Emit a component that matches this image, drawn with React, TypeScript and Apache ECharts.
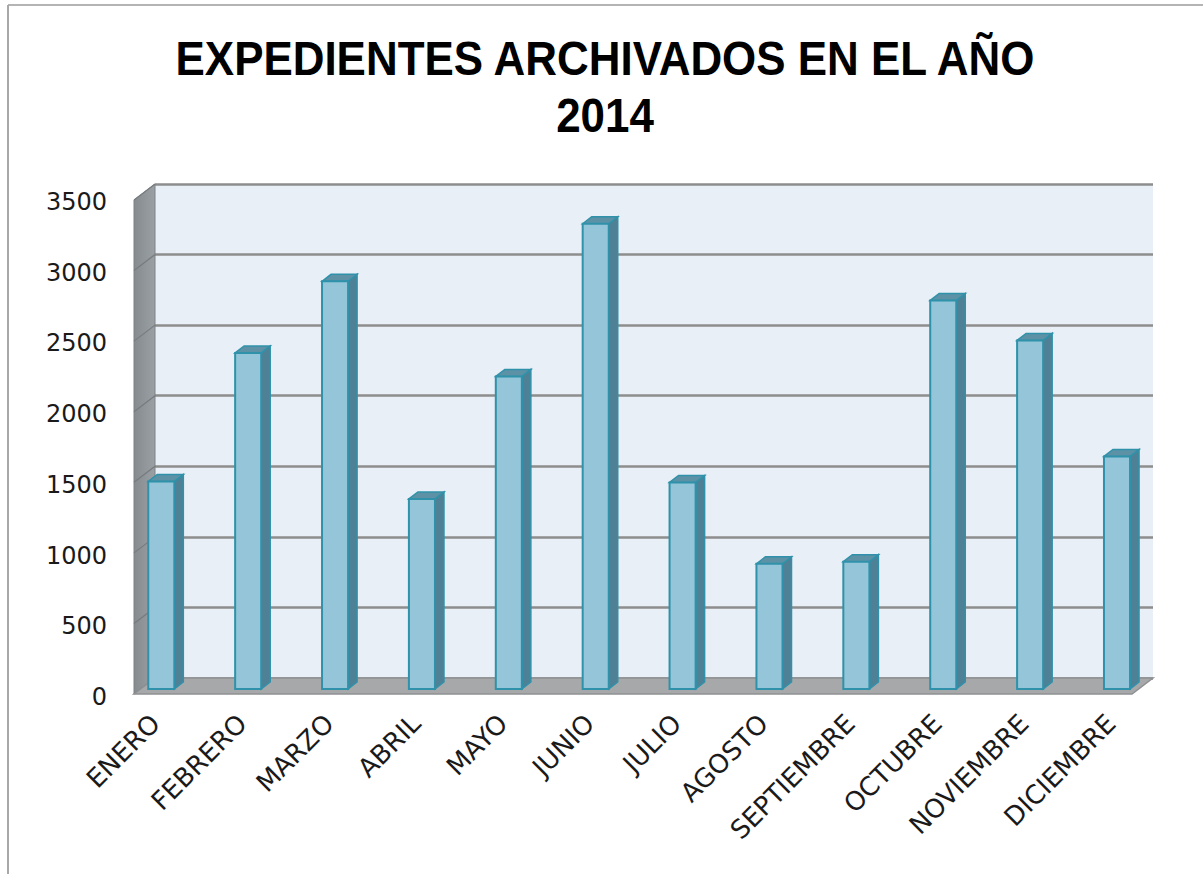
import React, { useEffect, useRef } from "react";
import * as echarts from "echarts";

const months = [
  "ENERO", "FEBRERO", "MARZO", "ABRIL", "MAYO", "JUNIO",
  "JULIO", "AGOSTO", "SEPTIEMBRE", "OCTUBRE", "NOVIEMBRE", "DICIEMBRE",
];
const expedientes = [1470, 2380, 2887, 1346, 2214, 3295, 1463, 887, 902, 2752, 2469, 1647];
const yTicks = [0, 500, 1000, 1500, 2000, 2500, 3000, 3500];
const titleLine1 = "EXPEDIENTES ARCHIVADOS EN EL AÑO";
const titleLine2 = "2014";

export default function App() {
  const ref = useRef<HTMLDivElement>(null);

  useEffect(() => {
    if (!ref.current) return;
    const chart = echarts.init(ref.current, null, { renderer: "svg" });
    const yMin = yTicks[0];
    const yMax = yTicks[yTicks.length - 1];
    const yStep = yTicks[1] - yTicks[0];
    const DX = -21;
    const DY = 16;
    const labelFont = "'DejaVu Sans', Verdana, sans-serif";
    const titleFont = "'Liberation Sans', Arial, sans-serif";

    const wallsRender = (params: any, api: any) => {
      const b0 = api.coord([0, yMin]);
      const bT = api.coord([0, yMax]);
      const b1 = api.coord([1, yMin]);
      const f = (p: number[]) => [p[0] + DX, p[1] + DY];
      const children: any[] = [];
      children.push({
        type: "polygon",
        shape: { points: [bT, b0, f(b0), f(bT)] },
        style: {
          fill: new echarts.graphic.LinearGradient(0, 0, 1, 0, [
            { offset: 0, color: "#868b90" },
            { offset: 1, color: "#9ba0a4" },
          ]),
          stroke: "#7d8185",
          lineWidth: 1,
        },
      });
      yTicks.forEach((v) => {
        const p = api.coord([0, v]);
        children.push({
          type: "line",
          shape: { x1: p[0], y1: p[1], x2: p[0] + DX, y2: p[1] + DY },
          style: { stroke: "#767b80", lineWidth: 1.2 },
        });
      });
      children.push({
        type: "polygon",
        shape: { points: [b0, b1, f(b1), f(b0)] },
        style: { fill: "#a6a8aa", stroke: "#8e9092", lineWidth: 1.5 },
      });
      return { type: "group", children };
    };

    const barRender = (params: any, api: any) => {
      const i = api.value(0);
      const v = api.value(1);
      const top = api.coord([i, v]);
      const base = api.coord([i, 0]);
      const band = api.size([1, 0])[0];
      const w = band * 0.3;
      const sx = 9;
      const sy = -7;
      const xl = top[0] - w / 2;
      const xr = top[0] + w / 2;
      const stroke = "#2f92aa";
      return {
        type: "group",
        children: [
          {
            type: "polygon",
            shape: { points: [[xr, top[1]], [xr + sx, top[1] + sy], [xr + sx, base[1] + sy], [xr, base[1]]] },
            style: { fill: "#4f8196", stroke, lineWidth: 1.5 },
          },
          {
            type: "polygon",
            shape: { points: [[xl, top[1]], [xl + sx, top[1] + sy], [xr + sx, top[1] + sy], [xr, top[1]]] },
            style: { fill: "#5d92a6", stroke, lineWidth: 1.5 },
          },
          {
            type: "rect",
            shape: { x: xl, y: top[1], width: w, height: base[1] - top[1] },
            style: { fill: "#94c5d8", stroke, lineWidth: 2 },
          },
        ],
      };
    };

    const barLeft = 117.85;
    const barRight = 42.55;
    const barTop = 689 - 7 * 70.6;
    const barBottom = 874 - 689;

    const titleStyle = {
      fontFamily: titleFont,
      fontWeight: "bold",
      fontSize: 48,
      fill: "#000000",
      align: "center",
      verticalAlign: "middle",
    };

    const option: any = {
      animation: false,
      backgroundColor: "#ffffff",
      graphic: [
        { type: "line", shape: { x1: 8, y1: 5, x2: 1203, y2: 5 }, style: { stroke: "#b4b4b4", lineWidth: 2 } },
        { type: "line", shape: { x1: 8, y1: 5, x2: 8, y2: 874 }, style: { stroke: "#a8a8a8", lineWidth: 2 } },
        { type: "text", x: 605, y: 58, scaleX: 0.915, style: { ...titleStyle, text: titleLine1 } },
        { type: "text", x: 605, y: 115, scaleX: 0.915, style: { ...titleStyle, text: titleLine2 } },
      ],
      grid: [
        {
          left: 155, right: 50, top: 184, bottom: 874 - 678,
          show: true, backgroundColor: "#e9eff6", borderWidth: 0,
        },
        { left: barLeft, right: barRight, top: barTop, bottom: barBottom },
        { left: 155, right: 50, top: 202, bottom: 874 - 697 },
        { left: barLeft - 6, right: barRight + 6, top: barTop, bottom: barBottom },
      ],
      xAxis: [
        { gridIndex: 0, type: "value", min: 0, max: 1, show: false },
        { gridIndex: 1, type: "category", data: months, boundaryGap: true, show: false },
        { gridIndex: 2, type: "value", min: 0, max: 1, show: false },
        {
          gridIndex: 3,
          type: "category",
          data: months,
          boundaryGap: true,
          axisLine: { show: false },
          axisTick: { show: false },
          splitLine: { show: false },
          axisLabel: {
            rotate: 45,
            margin: 30,
            interval: 0,
            fontSize: 26,
            fontFamily: labelFont,
            color: "#1a1a1a",
          },
        },
      ],
      yAxis: [
        {
          gridIndex: 0,
          type: "value",
          min: yMin,
          max: yMax,
          interval: yStep,
          axisLine: { show: false },
          axisTick: { show: false },
          axisLabel: { show: false },
          splitLine: { show: true, lineStyle: { color: "#8d8d8d", width: 2.5 } },
        },
        { gridIndex: 1, type: "value", min: yMin, max: yMax, interval: yStep, show: false },
        {
          gridIndex: 2,
          type: "value",
          min: yMin,
          max: yMax,
          interval: yStep,
          axisLine: { show: false },
          axisTick: { show: false },
          splitLine: { show: false },
          axisLabel: {
            margin: 48,
            fontSize: 24,
            fontFamily: labelFont,
            color: "#1a1a1a",
            formatter: (v: number) => String(v),
          },
        },
        { gridIndex: 3, type: "value", min: yMin, max: yMax, interval: yStep, show: false },
      ],
      series: [
        {
          type: "custom",
          name: "walls",
          xAxisIndex: 0,
          yAxisIndex: 0,
          data: [[0, 0]],
          renderItem: wallsRender,
          silent: true,
          z: 1,
        },
        {
          type: "custom",
          name: "Expedientes archivados",
          xAxisIndex: 1,
          yAxisIndex: 1,
          data: expedientes.map((v, i) => [i, v]),
          encode: { x: 0, y: 1 },
          renderItem: barRender,
          z: 3,
        },
      ],
    };
    chart.setOption(option);
    return () => chart.dispose();
  }, []);

  return (
    <div
      ref={ref}
      style={{ position: "absolute", left: 0, top: 0, width: 1203, height: 874 }}
    />
  );
}
